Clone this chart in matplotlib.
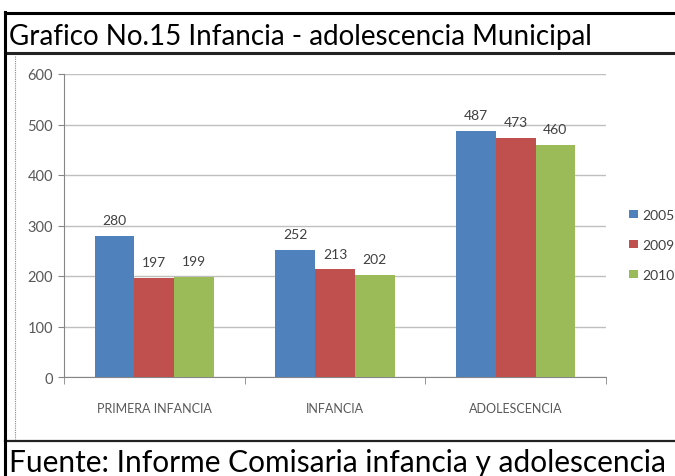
import numpy as np
import matplotlib
matplotlib.use('Agg')
import matplotlib.pyplot as plt
from matplotlib.lines import Line2D

plt.rcParams['font.family'] = ['Lato', 'DejaVu Sans']

categorias = ['PRIMERA INFANCIA', 'INFANCIA', 'ADOLESCENCIA']
anios = ['2005', '2009', '2010']
valores = [
    [280, 252, 487],   # 2005
    [197, 213, 473],   # 2009
    [199, 202, 460],   # 2010
]
colores = ['#4F81BD', '#C0504D', '#9BBB59']
y_ticks = [0, 100, 200, 300, 400, 500, 600]

W, H = 675, 477
fig = plt.figure(figsize=(W / 100, H / 100), dpi=100)

ax = fig.add_axes([64 / W, 1 - 378 / H, (606 - 64) / W, (378 - 75) / H])

x = np.arange(len(categorias))
ancho = 0.22
for i, (anio, vals) in enumerate(zip(anios, valores)):
    barras = ax.bar(x + (i - 1) * ancho, vals, ancho, color=colores[i], label=anio, zorder=3)
    for b, v in zip(barras, vals):
        ax.annotate(str(v), (b.get_x() + b.get_width() / 2, v), xytext=(0, 7),
                    textcoords='offset points', ha='center', va='bottom',
                    fontsize=10, color='#404040')

ax.set_xlim(-0.5, 2.5)
ax.set_ylim(0, 600)
ax.set_yticks(y_ticks)
ax.yaxis.grid(True, color='#BFBFBF', lw=1, zorder=0)
ax.tick_params(axis='y', length=4, color='#868686', labelsize=10.5, labelcolor='#595959', pad=4)

ax.set_xticks(x)
ax.set_xticklabels(categorias)
ax.set_xticks([-0.5, 0.5, 1.5, 2.5], minor=True)
ax.tick_params(axis='x', which='major', length=0, labelsize=9, labelcolor='#595959', pad=18)
ax.tick_params(axis='x', which='minor', length=5, color='#868686')

for s in ['top', 'right']:
    ax.spines[s].set_visible(False)
for s in ['left', 'bottom']:
    ax.spines[s].set_color('#868686')

ax.legend(loc='center left', bbox_to_anchor=(1.02, 0.436), frameon=False,
          fontsize=10, handlelength=0.6, handleheight=0.6, handletextpad=0.3,
          labelspacing=1.3, labelcolor='#404040')

# marco del cuadro
def linea(x0, y0, x1, y1, **kw):
    fig.add_artist(Line2D([x0 / W, x1 / W], [1 - y0 / H, 1 - y1 / H], **kw))

linea(5, 14, W, 14, color='black', lw=2.2)
linea(5, 54, W, 54, color='#222222', lw=2.2)
linea(5, 442, W, 442, color='#222222', lw=1.6)
linea(5, 13, 5, H, color='black', lw=2.2)
linea(15, 57, 15, 440, color='#888888', lw=0.8, ls=(0, (1, 1)))

fig.text(9 / W, 1 - 45 / H, 'Grafico No.15 Infancia - adolescencia Municipal',
         fontsize=20, va='baseline', ha='left', color='black')
fig.text(9 / W, 1 - 472 / H, 'Fuente: Informe Comisaria infancia y adolescencia',
         fontsize=21.5, va='baseline', ha='left', color='black')

fig.savefig('out.png', dpi=100)
